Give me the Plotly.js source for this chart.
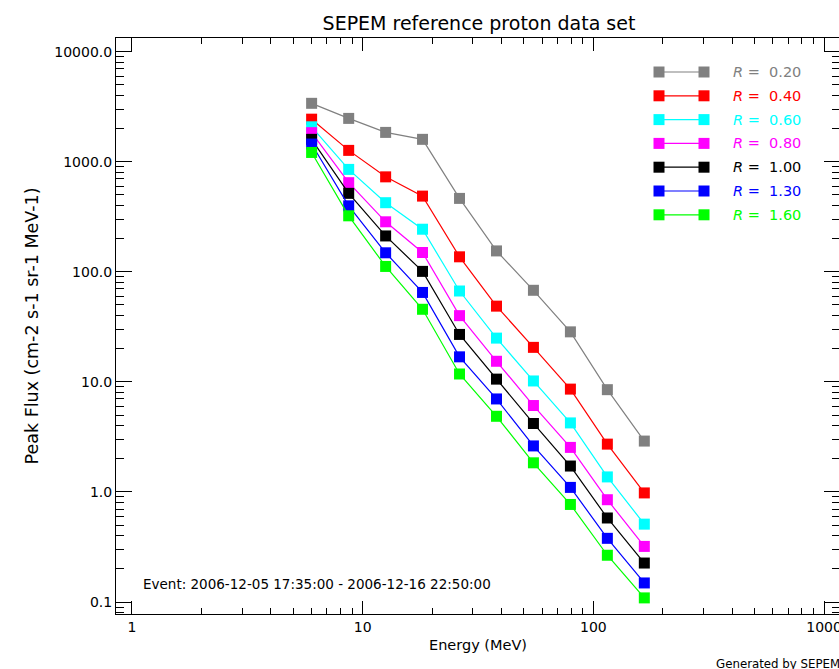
<!DOCTYPE html>
<html>
<head>
<meta charset="utf-8">
<script src="https://cdn.plot.ly/plotly-3.0.1.min.js"></script>
<style>
html,body{margin:0;padding:0;overflow:hidden;background:#fff;}
#chart{width:845px;height:669px;}
</style>
</head>
<body>
<div id="chart"></div>
<script>
// Energy bin midpoints (MeV)
const energy = [6.01, 8.70, 12.58, 18.18, 26.30, 38.03, 54.99, 79.53, 115.0, 166.3];
const seriesNames = ["0.20", "0.40", "0.60", "0.80", "1.00", "1.30", "1.60"];
const seriesColors = ["#808080", "#ff0000", "#00ffff", "#ff00ff", "#000000", "#0000ff", "#00ff00"];
const fluxR020 = [3400, 2480, 1850, 1600, 465, 155, 68, 28.5, 8.5, 2.9];
const fluxR040 = [2440, 1270, 730, 488, 137, 48.8, 20.6, 8.6, 2.72, 0.98];
const fluxR060 = [2080, 853, 425, 244, 67, 25, 10.2, 4.24, 1.37, 0.51];
const fluxR080 = [1840, 646, 285, 150, 40, 15.4, 6.1, 2.54, 0.85, 0.32];
const fluxR100 = [1600, 517, 212, 101, 27, 10.6, 4.19, 1.72, 0.58, 0.226];
const fluxR130 = [1450, 398, 149, 65, 16.9, 7.0, 2.62, 1.10, 0.379, 0.149];
const fluxR160 = [1216, 323, 112, 45.7, 11.8, 4.87, 1.84, 0.77, 0.266, 0.109];
const allFlux = [fluxR020, fluxR040, fluxR060, fluxR080, fluxR100, fluxR130, fluxR160];

const xTickVals = [1, 10, 100, 1000];
const xTickText = ["1", "10", "100", "1000"];
const yTickVals = [0.1, 1, 10, 100, 1000, 10000];
const yTickText = ["0.1", "1.0", "10.0", "100.0", "1000.0", "10000.0"];

const titleText = "SEPEM reference proton data set";
const xTitle = "Energy (MeV)";
const yTitle = "Peak Flux (cm-2 s-1 sr-1 MeV-1)";
const eventText = "Event: 2006-12-05 17:35:00 - 2006-12-16 22:50:00";
const footerText = "Generated by SEPEM";

// layout geometry (pixels)
const W = 845, H = 669, ML = 116, MR = 5, MT = 38, MB = 55;
const PW = W - ML - MR, PH = H - MT - MB;
const px = v => (v - ML) / PW;
const py = v => (H - MB - v) / PH;

function minorVals(lo, hi) {
  const out = [];
  for (let e = lo; e <= hi; e++) for (let m = 2; m <= 9; m++) out.push(m * Math.pow(10, e));
  return out;
}

const fontFam = "DejaVu Sans, Verdana, sans-serif";

const traces = allFlux.map((f, i) => ({
  type: "scatter", mode: "lines+markers",
  x: energy, y: f,
  name: "R = " + seriesNames[i],
  line: {color: seriesColors[i], width: 1.2},
  marker: {symbol: "square", size: 11, color: seriesColors[i], line: {width: 0}},
  showlegend: false,
  hoverinfo: "x+y"
}));

// custom legend (IDL style: marker at both ends of the line)
const shapes = [];
const annotations = [];
const legX0 = 659, legX1 = 704, legTextX = 731, legY0 = 72, legDY = 23.8, half = 5.5;
seriesNames.forEach((n, i) => {
  const y = legY0 + i * legDY;
  const c = seriesColors[i];
  shapes.push({type: "line", xref: "paper", yref: "paper", x0: px(legX0), x1: px(legX1), y0: py(y), y1: py(y), line: {color: c, width: 1.2}});
  [legX0, legX1].forEach(xx => shapes.push({type: "rect", xref: "paper", yref: "paper",
    x0: px(xx - half), x1: px(xx + half), y0: py(y - half), y1: py(y + half), fillcolor: c, line: {width: 0}}));
  annotations.push({xref: "paper", yref: "paper", x: px(legTextX), y: py(y), xanchor: "left", yanchor: "middle",
    text: "<i>R</i>&nbsp;=&nbsp; " + n, showarrow: false, font: {family: fontFam, size: 14.5, color: c}});
});
annotations.push({xref: "paper", yref: "paper", x: px(141), y: py(584), xanchor: "left", yanchor: "middle",
  text: eventText, showarrow: false, font: {family: fontFam, size: 13.5, color: "#000"}});
annotations.push({xref: "paper", yref: "paper", x: px(714), y: py(664), xanchor: "left", yanchor: "middle",
  text: footerText, showarrow: false, font: {family: fontFam, size: 11.8, color: "#000"}});

const axisCommon = {
  type: "log", showgrid: false, zeroline: false,
  showline: true, linecolor: "#000", linewidth: 1, mirror: "allticks",
  ticks: "inside", tickcolor: "#000", tickwidth: 1,
  tickmode: "array",
  tickfont: {family: fontFam, size: 14, color: "#000"}
};

const layout = {
  width: W, height: H,
  margin: {l: ML, r: MR, t: MT, b: MB},
  paper_bgcolor: "#fff", plot_bgcolor: "#fff",
  font: {family: fontFam, color: "#000"},
  title: {text: titleText, x: 479 / W, xanchor: "center", y: 1 - 23 / H, yanchor: "middle",
    font: {family: fontFam, size: 19, color: "#000"}},
  xaxis: Object.assign({}, axisCommon, {
    range: [-0.069, 3.069], tickvals: xTickVals, ticktext: xTickText, ticklen: 13,
    minor: {tickmode: "array", tickvals: minorVals(0, 2), ticks: "inside", ticklen: 6, tickcolor: "#000", showgrid: false},
    title: {text: xTitle, standoff: 6, font: {family: fontFam, size: 14.5, color: "#000"}}
  }),
  yaxis: Object.assign({}, axisCommon, {
    range: [-1.109, 4.125], tickvals: yTickVals, ticktext: yTickText, ticklen: 16,
    minor: {tickmode: "array", tickvals: minorVals(-2, 3), ticks: "inside", ticklen: 8, tickcolor: "#000", showgrid: false},
    title: {text: yTitle, standoff: 11, font: {family: fontFam, size: 17.5, color: "#000"}}
  }),
  shapes: shapes,
  annotations: annotations,
  showlegend: false
};

Plotly.newPlot("chart", traces, layout, {displayModeBar: false, staticPlot: true});
</script>
</body>
</html>
